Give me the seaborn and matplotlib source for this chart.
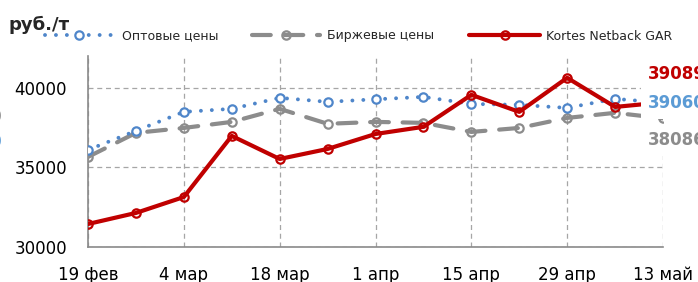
import numpy as np
import pandas as pd
import matplotlib
matplotlib.use("Agg")
import matplotlib.pyplot as plt
from matplotlib.lines import Line2D
import seaborn as sns

# ---- data ----
dates = pd.date_range("2020-02-19", "2020-05-13", freq="7D")
opt_prices = [36100, 37300, 38490, 38680, 39370, 39120, 39280, 39430, 38990, 38930, 38740, 39310, 39060]
exch_prices = [35660, 37170, 37480, 37860, 38680, 37740, 37860, 37800, 37230, 37480, 38110, 38430, 38086]
kortes_prices = [31445, 32140, 33140, 36980, 35530, 36160, 37100, 37550, 39560, 38490, 40630, 38800, 39089]
series_names = ["Оптовые цены", "Биржевые цены", "Kortes Netback GAR"]
tick_dates = pd.date_range("2020-02-19", "2020-05-13", freq="14D")
tick_labels = ["19 фев", "4 мар", "18 мар", "1 апр", "15 апр", "29 апр", "13 май"]
y_ticks = [30000, 35000, 40000]
last_labels = ["39089", "39060", "38086"]
first_labels = ["31445", "35660", "36100"]
unit_label = "руб./т"

BLUE = "#4F86CA"
BLUE_TXT = "#5B9BD5"
GREY = "#8C8C8C"
RED = "#C00000"
AX_GREY = "#8A8A8A"

sns.set_style("white")
plt.rcParams["font.family"] = ["DejaVu Sans"]

W, H = 698, 282
fig = plt.figure(figsize=(W / 100, H / 100), dpi=100)
ax = fig.add_axes([88 / W, 1 - 247 / H, (663 - 88) / W, (247 - 56) / H])

df = pd.DataFrame({"date": dates, "opt": opt_prices, "exch": exch_prices, "kortes": kortes_prices})

common = dict(marker="o", markersize=6, markeredgewidth=1.6)
sns.lineplot(data=df, x="date", y="exch", ax=ax, color=GREY, lw=3.0,
             linestyle=(0, (4.5, 3.3)), dash_capstyle="round", markerfacecolor="none",
             markeredgecolor=GREY, zorder=3, **common)
sns.lineplot(data=df, x="date", y="opt", ax=ax, color=BLUE, lw=2.8,
             linestyle=(0, (0.01, 2.8)), dash_capstyle="round", markerfacecolor="white",
             markeredgecolor=BLUE, zorder=3, **common)
sns.lineplot(data=df, x="date", y="kortes", ax=ax, color=RED, lw=3.0,
             solid_capstyle="round", markerfacecolor="none", markeredgecolor=RED, zorder=4, **common)

ax.set_xlim(tick_dates[0], tick_dates[-1])
ax.set_ylim(30000, 42000)
ax.set_xticks(tick_dates)
ax.set_xticklabels(tick_labels)
ax.set_yticks(y_ticks)
ax.set_yticklabels([str(v) for v in y_ticks])
ax.set_xlabel("")
ax.set_ylabel("")

ax.grid(True, linestyle=(0, (4, 3)), color="#A6A6A6", lw=0.9)
for s in ["top", "right"]:
    ax.spines[s].set_visible(False)
for s in ["left", "bottom"]:
    ax.spines[s].set_color(AX_GREY)
    ax.spines[s].set_linewidth(1.2)

ax.tick_params(axis="x", direction="inout", length=10, width=1, color=AX_GREY,
               labelsize=12, pad=8.5, labelcolor="black")
ax.tick_params(axis="y", direction="out", length=6, width=1, color=AX_GREY,
               labelsize=12, pad=9.0, labelcolor="black")

# unit label
fig.text(8 / W, 1 - 30 / H, unit_label, fontsize=13, fontweight="bold", ha="left", va="baseline")

# legends, one per entry
leg_fs = 9
handles = [
    Line2D([], [], color=BLUE, lw=2.8, linestyle=(0, (0.01, 2.8)), dash_capstyle="round",
           marker="o", markersize=6, markerfacecolor="white", markeredgecolor=BLUE, markeredgewidth=1.6),
    Line2D([], [], color=GREY, lw=3.0, linestyle=(0, (4.5, 3.3)), dash_capstyle="round",
           marker="o", markersize=6, markerfacecolor="none", markeredgecolor=GREY, markeredgewidth=1.6),
    Line2D([], [], color=RED, lw=3.0, solid_capstyle="round",
           marker="o", markersize=6, markerfacecolor="none", markeredgecolor=RED, markeredgewidth=1.6),
]
leg_pos = [(45, 113, 122), (252, 320, 327), (469, 540, 546)]
px_per_em = leg_fs * 100 / 72
for h, name, (x0, x1, xt) in zip(handles, series_names, leg_pos):
    fig.legend([h], [name], loc="center left", bbox_to_anchor=(x0 / W, 1 - 36 / H),
               frameon=False, fontsize=leg_fs, borderpad=0, borderaxespad=0,
               handlelength=(x1 - x0) / px_per_em, handletextpad=(xt - x1) / px_per_em,
               numpoints=1)

# right-hand value labels
label_y = [74, 103, 140]
label_c = [RED, BLUE_TXT, GREY]
for txt, yy, c in zip(last_labels, label_y, label_c):
    fig.text(648 / W, 1 - yy / H, txt, color=c, fontsize=12, fontweight="bold",
             ha="left", va="center",
             bbox=dict(boxstyle="square,pad=0.42", fc="white", ec="none"), zorder=10)

# left-hand value labels (mostly outside the picture, as in the reference)
first_y = [86, 117, 142]
first_c = [RED, GREY, BLUE_TXT]
for txt, yy, c in zip(first_labels, first_y, first_c):
    fig.text(2 / W, 1 - yy / H, txt, color=c, fontsize=12, fontweight="bold",
             ha="right", va="center", zorder=10)

fig.savefig("out.png", dpi=100)
